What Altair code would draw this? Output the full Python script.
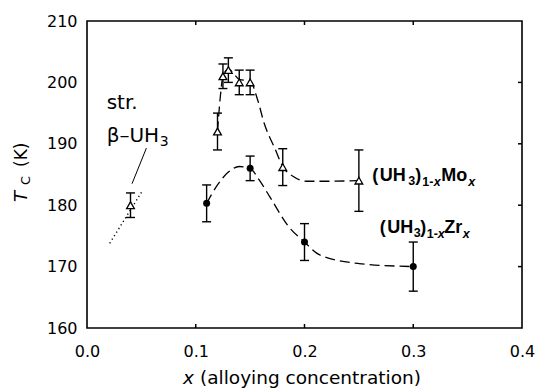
import altair as alt
import pandas as pd

# ---- measured Tc values (K) with error bars ----
mo_x = [0.04, 0.12, 0.125, 0.13, 0.14, 0.15, 0.18, 0.25]
mo_tc = [180.0, 192.0, 201.0, 202.0, 200.0, 200.0, 186.2, 184.0]
mo_err = [2.0, 3.0, 2.0, 2.0, 2.0, 2.0, 3.0, 5.0]

zr_x = [0.11, 0.15, 0.20, 0.30]
zr_tc = [180.3, 186.0, 174.0, 170.0]
zr_err = [3.0, 2.0, 3.0, 4.0]

# ---- guide-to-the-eye curves ----
mo_curve_x = [0.12, 0.1225, 0.125, 0.13, 0.135, 0.14, 0.15, 0.157, 0.163,
              0.1726, 0.18, 0.1894, 0.2017, 0.22, 0.25]
mo_curve_tc = [192.0, 197.5, 201.0, 202.2, 201.4, 200.5, 200.2, 197.1, 193.3,
               189.3, 186.3, 184.7, 183.9, 183.9, 184.0]
zr_curve_x = [0.11, 0.12, 0.13, 0.14, 0.15, 0.158, 0.168, 0.185, 0.20,
              0.214, 0.25, 0.30]
zr_curve_tc = [180.3, 183.3, 185.4, 186.3, 186.0, 184.2, 181.4, 176.6, 174.0,
               171.9, 170.5, 170.0]

# stressed beta-UH3 trend (dotted) and its leader line
beta_x = [0.0209, 0.0515]
beta_tc = [173.8, 182.5]
leader_x = [0.0546, 0.0414]
leader_tc = [189.3, 183.5]

# ---- axes ----
x_ticks = [0.0, 0.1, 0.2, 0.3, 0.4]
y_ticks = [160, 170, 180, 190, 200, 210]
x_inner_ticks = [0.1, 0.2, 0.3]
y_inner_ticks = [170, 180, 190, 200]

W, H = 435, 307
FONT = "DejaVu Sans"
BOLD = "Liberation Sans"

x_scale = alt.Scale(domain=[0.0, 0.4], nice=False, zero=False)
y_scale = alt.Scale(domain=[160, 210], nice=False, zero=False)
x_axis = alt.Axis(values=x_ticks, format=".1f", grid=False, ticks=False, tickSize=0,
                  domain=False, labelFont=FONT, labelFontSize=16, labelColor="black",
                  labelPadding=15, labelFlush=False)
y_axis = alt.Axis(values=y_ticks, format="d", grid=False, ticks=False, tickSize=0,
                  domain=False, labelFont=FONT, labelFontSize=16, labelColor="black",
                  labelPadding=10, labelFlush=False)


def X(field):
    return alt.X(field, type="quantitative", scale=x_scale, axis=x_axis, title="")


def Y(field):
    return alt.Y(field, type="quantitative", scale=y_scale, axis=y_axis, title="")


def frame(xs, ys, errs=None):
    d = pd.DataFrame({"x": xs, "tc": ys})
    if errs is not None:
        d["lo"] = [v - e for v, e in zip(ys, errs)]
        d["hi"] = [v + e for v, e in zip(ys, errs)]
    return d


mo = frame(mo_x, mo_tc, mo_err)
zr = frame(zr_x, zr_tc, zr_err)

layers = []

# dashed guide curves
for cx, cy in [(mo_curve_x, mo_curve_tc), (zr_curve_x, zr_curve_tc)]:
    layers.append(
        alt.Chart(frame(cx, cy)).mark_line(
            color="black", strokeWidth=1.3, strokeDash=[10, 5], interpolate="monotone"
        ).encode(x=X("x"), y=Y("tc"))
    )

# dotted trend and leader line
layers.append(
    alt.Chart(frame(beta_x, beta_tc)).mark_line(
        color="black", strokeWidth=1.4, strokeDash=[1.2, 3]
    ).encode(x=X("x"), y=Y("tc"))
)
layers.append(
    alt.Chart(frame(leader_x, leader_tc)).mark_line(color="black", strokeWidth=1.0)
    .encode(x=X("x"), y=Y("tc"))
)

# error bars with caps
for d in [mo, zr]:
    layers.append(
        alt.Chart(d).mark_rule(color="black", strokeWidth=1.4)
        .encode(x=X("x"), y=Y("lo"), y2="hi")
    )
    for end in ["lo", "hi"]:
        layers.append(
            alt.Chart(d).mark_tick(color="black", orient="horizontal", size=9,
                                   thickness=1.4, opacity=1)
            .encode(x=X("x"), y=Y(end))
        )

# markers
layers.append(
    alt.Chart(mo).mark_point(shape="triangle-up", filled=True, fill="white",
                             stroke="black", strokeWidth=1.3, size=60, opacity=1)
    .encode(x=X("x"), y=Y("tc"))
)
layers.append(
    alt.Chart(zr).mark_point(shape="circle", filled=True, color="black",
                             size=49, opacity=1)
    .encode(x=X("x"), y=Y("tc"))
)

# inward ticks on the frame
xt = pd.DataFrame({"x": x_inner_ticks})
yt = pd.DataFrame({"tc": y_inner_ticks})
layers.append(alt.Chart(xt).mark_rule(color="black", strokeWidth=1.5)
              .encode(x=X("x"), y=alt.value(H), y2=alt.value(H - 4)))
layers.append(alt.Chart(xt).mark_rule(color="black", strokeWidth=1.5)
              .encode(x=X("x"), y=alt.value(0), y2=alt.value(4)))
layers.append(alt.Chart(yt).mark_rule(color="black", strokeWidth=1.5)
              .encode(y=Y("tc"), x=alt.value(W), x2=alt.value(W - 4)))


def rich_label(anchor_x, anchor_y, pieces, font):
    """Text assembled from pieces: (text, dx, dy, size, weight, style)."""
    out = []
    for text, dx, dy, size, weight, style in pieces:
        out.append(
            alt.Chart(pd.DataFrame({"t": [text]})).mark_text(
                align="left", baseline="alphabetic", dx=dx, dy=dy, font=font,
                fontSize=size, fontWeight=weight, fontStyle=style, color="black"
            ).encode(x=alt.datum(anchor_x), y=alt.datum(anchor_y), text="t:N")
        )
    return out


mo_label = [("(", 0, 0, 18, "bold", "normal"), ("UH", 7.5, 0, 18, "bold", "normal"),
            ("3", 36, 4, 12.5, "bold", "normal"), (")", 43, 0, 18, "bold", "normal"),
            ("1-", 50, 5.5, 12.5, "bold", "normal"), ("x", 61.5, 5.5, 12.5, "bold", "italic"),
            ("Mo", 69, 0, 18, "bold", "normal"), ("x", 96, 5.5, 12.5, "bold", "italic")]
zr_label = [("(", 0, 0, 18, "bold", "normal"), ("UH", 7.5, 0, 18, "bold", "normal"),
            ("3", 34, 4, 12.5, "bold", "normal"), (")", 40.5, 0, 18, "bold", "normal"),
            ("1-", 47, 5.5, 12.5, "bold", "normal"), ("x", 58, 5.5, 12.5, "bold", "italic"),
            ("Zr", 64.5, 0, 18, "bold", "normal"), ("x", 83, 5.5, 12.5, "bold", "italic")]
layers += rich_label(0.2623, 184.0, mo_label, BOLD)
layers += rich_label(0.2692, 175.55, zr_label, BOLD)

beta_label = [("β–UH", 0, 0, 20, "normal", "normal"), ("3", 53, 4.5, 14, "normal", "normal")]
layers += rich_label(0.0181, 195.6, [("str.", 0, 0, 20, "normal", "normal")], FONT)
layers += rich_label(0.0181, 190.36, beta_label, FONT)


# axis titles drawn as text so that italics and subscripts can be mixed
def title_piece(text, x, y, size, style="normal", angle=0):
    return alt.Chart(pd.DataFrame({"t": [text]})).mark_text(
        align="left", baseline="alphabetic", font=FONT, fontSize=size,
        fontStyle=style, angle=angle, color="black"
    ).encode(x=alt.value(x), y=alt.value(y), text="t:N")


layers += [
    title_piece("x", 96, 363, 18.5, "italic"),
    title_piece("(alloying concentration)", 113, 363, 18.5),
    title_piece("T", -60, 181, 18, "italic", 270),
    title_piece("C", -57.5, 164, 13, "normal", 270),
    title_piece("(K)", -60.5, 146, 17, "normal", 270),
]

chart = alt.layer(*layers).properties(
    width=W, height=H,
    autosize=alt.AutoSizeParams(type="none"),
    padding={"left": 87, "top": 21, "right": 15, "bottom": 60},
    background="white",
).configure_view(stroke="black", strokeWidth=1.6)

chart.save("out.html", embed_options={"renderer": "svg", "actions": False})
